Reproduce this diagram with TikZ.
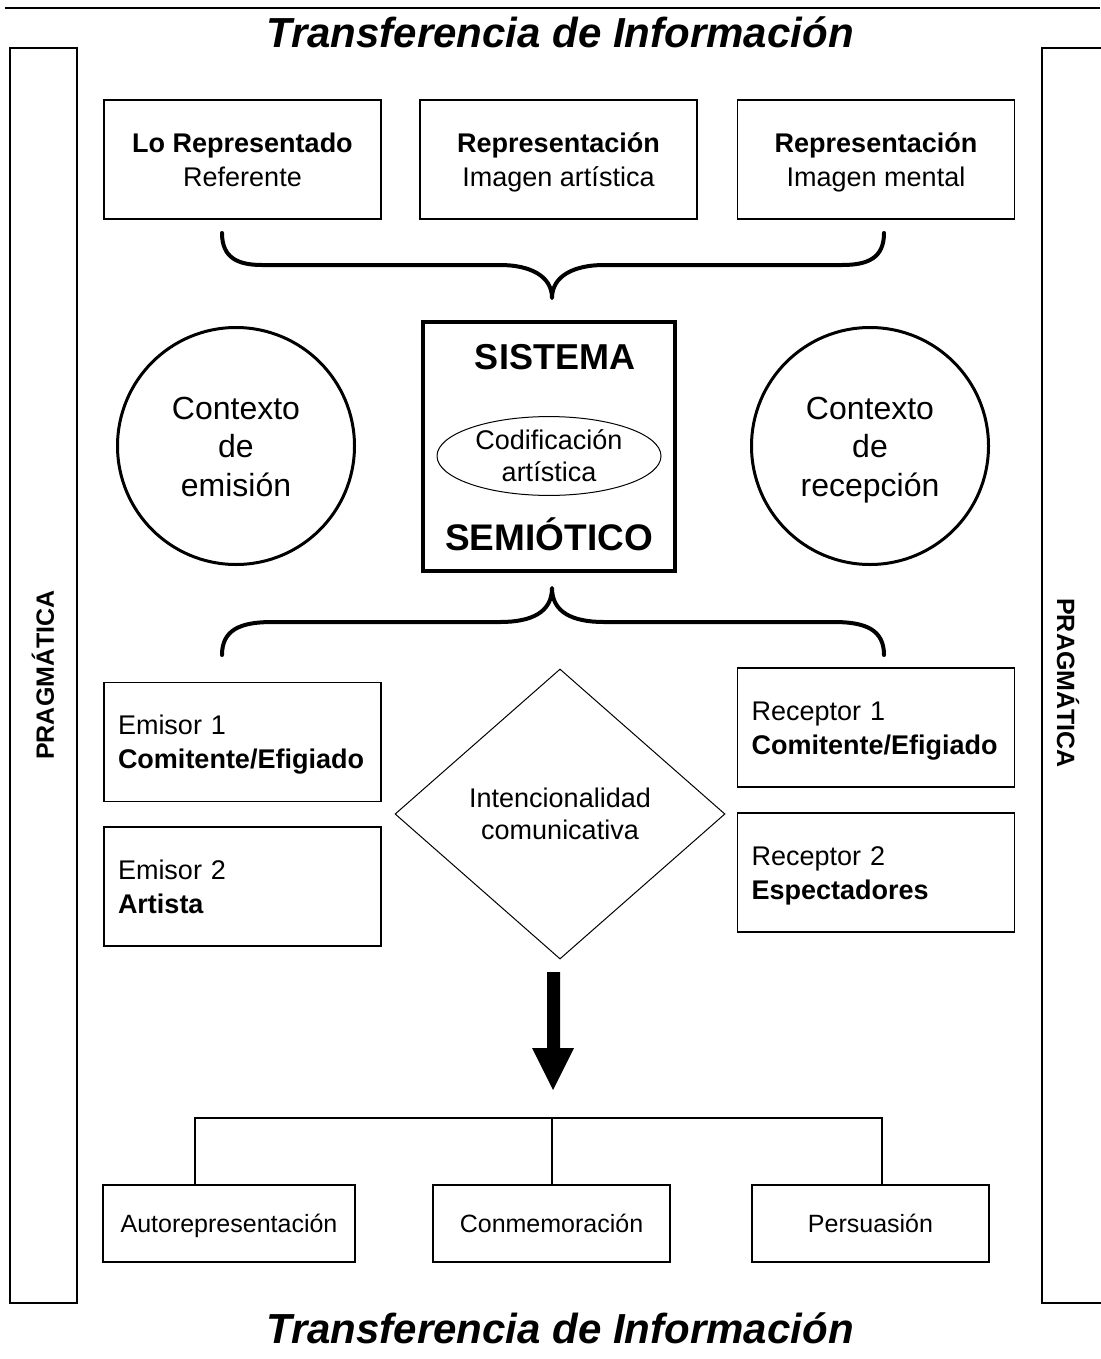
\documentclass[tikz,border=0pt]{standalone}
\usepackage{fontspec}
\setmainfont{Liberation Sans}
\usetikzlibrary{shapes.geometric}
\newcommand\zs{\rule[-0.08em]{0pt}{0.88em}}
\newcommand\lne[1]{\zs\smash{#1}}
\begin{document}
\begin{tikzpicture}[x=0.5pt,y=-0.5pt,
  box/.style={draw,line width=0.7pt,minimum width=138.5pt,minimum height=59.5pt,inner sep=0pt,align=center,font=\fontsize{13.5}{17}\selectfont},
  lbox/.style={draw,line width=0.7pt,text width=124.5pt,inner xsep=7pt,inner ysep=0pt,minimum height=59.5pt,align=left,font=\fontsize{13.5}{17}\selectfont},
  bbox/.style={draw,line width=0.7pt,minimum height=38.5pt,inner sep=0pt,font=\fontsize{12.5}{15}\selectfont},
  circ/.style={draw,circle,line width=1.5pt,minimum size=118.5pt,inner sep=0pt,align=center,font=\fontsize{16}{19.25}\selectfont},
  brace/.style={line width=2pt,line cap=round,line join=round},
  title/.style={font=\bfseries\itshape\fontsize{21}{24}\selectfont},
  prag/.style={font=\bfseries\fontsize{12.5}{15}\selectfont},
  thin/.style={line width=0.6pt}
]
\useasboundingbox (0,0) rectangle (1100,1359);

% top rule and titles
\coordinate (rl) at (5,8);
\coordinate (rr) at (1100,8);
\draw[line width=1pt] (rl) -- (rr);
\node[title] (t1) at (560,32) {\lne{Transferencia de Información}};
\node[title] (t2) at (560,1328) {\lne{Transferencia de Información}};

% side panels
\draw[thin] (10,48) rectangle (77,1303);
\node[prag,rotate=90] (p1) at (43,675) {PRAGMÁTICA};
\draw[thin] (1104,48) -- (1042,48) -- (1042,1303) -- (1104,1303);
\node[prag,rotate=-90] (p2) at (1068,683) {PRAGMÁTICA};

% top boxes
\node[box] (ref) at (242.5,159.5) {\lne{\textbf{Lo Representado}}\\\lne{Referente}};
\node[box] (art) at (558.5,159.5) {\lne{\textbf{Representación}}\\\lne{Imagen artística}};
\node[box] (men) at (876,159.5) {\lne{\textbf{Representación}}\\\lne{Imagen mental}};

% top brace
\coordinate (b1l) at (222,233);
\coordinate (b1r) at (884,233);
\coordinate (b1t) at (552,298);
\draw[brace] (b1l) .. controls (222,258) and (238,265) .. (262,265) -- (500,265)
  .. controls (530,265) and (552,276) .. (b1t)
  .. controls (552,276) and (574,265) .. (604,265) -- (842,265)
  .. controls (868,265) and (884,258) .. (b1r);

% sistema
\node[draw,line width=2pt,minimum width=126pt,minimum height=124.5pt,inner sep=0pt] (sis) at (549,446.5) {};
\node[font=\bfseries\fontsize{18}{20}\selectfont] (sis1) at (555,357) {\lne{SISTEMA}};
\node[font=\bfseries\fontsize{18.5}{20}\selectfont] (sis2) at (549,537) {\lne{SEMIÓTICO}};
\node[draw,ellipse,line width=0.5pt,minimum width=112pt,minimum height=36pt,inner sep=0pt,align=center,font=\fontsize{13.5}{16}\selectfont] (cod) at (549,456) {\lne{Codificación}\\\lne{artística}};

% circles
\node[circ] (ce) at (236,446) {\lne{Contexto}\\\lne{de}\\\lne{emisión}};
\node[circ] (cr) at (870,446) {\lne{Contexto}\\\lne{de}\\\lne{recepción}};

% bottom brace
\coordinate (b2l) at (222,655);
\coordinate (b2r) at (884,655);
\coordinate (b2t) at (552,588);
\draw[brace] (b2l) .. controls (222,630) and (240,622) .. (272,622) -- (500,622)
  .. controls (532,622) and (552,612) .. (b2t)
  .. controls (552,612) and (572,622) .. (604,622) -- (834,622)
  .. controls (866,622) and (884,630) .. (b2r);

% emisores / receptores
\node[lbox] (e1) at (242.5,742) {\lne{Emisor 1}\\\lne{\textbf{Comitente/Efigiado}}};
\node[lbox] (e2) at (242.5,886.5) {\lne{Emisor 2}\\\lne{\textbf{Artista}}};
\node[lbox] (r1) at (876,727.5) {\lne{Receptor 1}\\\lne{\textbf{Comitente/Efigiado}}};
\node[lbox] (r2) at (876,872.5) {\lne{Receptor 2}\\\lne{\textbf{Espectadores}}};

% diamond
\node[draw,diamond,line width=0.5pt,minimum width=165pt,minimum height=145pt,inner sep=0pt,align=center,font=\fontsize{13.5}{16}\selectfont] (int) at (560,814) {\lne{Intencionalidad}\\\lne{comunicativa}};

% block arrow
\fill (547,972) -- (560,972) -- (560,1048) -- (574,1048) -- (553,1090) -- (532,1048) -- (547,1048) -- cycle;

% bottom boxes
\node[bbox,minimum width=126pt] (auto) at (229,1223.5) {\lne{Autorepresentación}};
\node[bbox,minimum width=118.5pt] (conm) at (551.5,1223.5) {\lne{Conmemoración}};
\node[bbox,minimum width=118.5pt] (pers) at (870.5,1223.5) {\lne{Persuasión}};

% tree
\coordinate (tl) at (195,1118);
\coordinate (tm) at (552,1118);
\coordinate (tr) at (882,1118);
\draw[thin] (tl |- auto.north) -- (tl) -- (tr) -- (tr |- pers.north);
\draw[thin] (tm) -- (tm |- conm.north);
\end{tikzpicture}
\end{document}
